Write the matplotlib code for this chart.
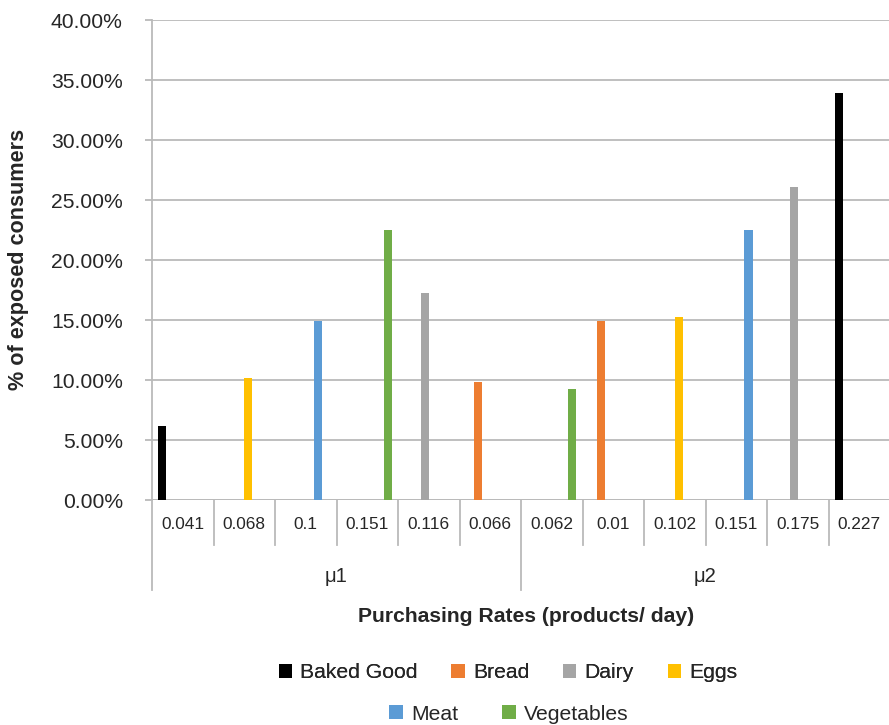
import numpy as np
import matplotlib
matplotlib.use("Agg")
import matplotlib.pyplot as plt
from matplotlib.ticker import PercentFormatter, MultipleLocator
import matplotlib.transforms as mtransforms

plt.rcParams["font.family"] = ["Liberation Sans", "DejaVu Sans"]

# ---- data -------------------------------------------------------------
rate_labels = ["0.041", "0.068", "0.1", "0.151", "0.116", "0.066",
               "0.062", "0.01", "0.102", "0.151", "0.175", "0.227"]
group_labels = ["\u03bc1", "\u03bc2"]
group_size = 6

series_names = ["Baked Good", "Bread", "Dairy", "Eggs", "Meat", "Vegetables"]
series_colors = ["#000000", "#ED7D31", "#A5A5A5", "#FFC000", "#5B9BD5", "#70AD47"]

# product category shown at each purchasing rate, and % of exposed consumers
rate_product = ["Baked Good", "Eggs", "Meat", "Vegetables", "Dairy", "Bread",
                "Vegetables", "Bread", "Eggs", "Meat", "Dairy", "Baked Good"]
pct_exposed = [6.17, 10.14, 14.9, 22.5, 17.28, 9.83,
               9.22, 14.92, 15.22, 22.5, 26.1, 33.9]

# ---- figure -----------------------------------------------------------
W, H = 889, 725
fig = plt.figure(figsize=(W / 100, H / 100), dpi=100)
ax = fig.add_axes([152 / W, 225 / H, 738 / W, 480 / H])

text_color = "#262626"
grid_color = "#BABABA"

n_cat = len(rate_labels)
n_ser = len(series_names)
bar_w = 1.0 / (n_ser + 1.5)          # clustered bars, 150% gap width
x = np.arange(n_cat)

for s, (name, color) in enumerate(zip(series_names, series_colors)):
    vals = np.array([v if p == name else np.nan
                     for p, v in zip(rate_product, pct_exposed)])
    ax.bar(x + (s - (n_ser - 1) / 2) * bar_w, vals, width=bar_w,
           color=color, linewidth=0, zorder=3, label=name)

ax.set_xlim(-0.5, n_cat - 0.5)
ax.set_ylim(0, 40)
ax.yaxis.set_major_locator(MultipleLocator(5))
ax.yaxis.set_major_formatter(PercentFormatter(xmax=100, decimals=2))
ax.yaxis.grid(True, color=grid_color, linewidth=1.3, zorder=0)
ax.set_axisbelow(True)

for side in ("top", "right", "bottom"):
    ax.spines[side].set_visible(False)
ax.spines["left"].set_color(grid_color)
ax.spines["left"].set_linewidth(1.3)
ax.axhline(0, color=grid_color, linewidth=1.3, zorder=2)

ax.tick_params(axis="y", length=5, width=1.3, color=grid_color,
               pad=16, labelsize=15.2, labelcolor=text_color)
ax.set_xticks(x, rate_labels)
ax.tick_params(axis="x", length=0, pad=12, labelsize=12.4, labelcolor=text_color)

# multi-level category axis: dividers and group labels
trans = mtransforms.blended_transform_factory(ax.transData, ax.transAxes)
inner_depth = -45 / 480
outer_depth = -90 / 480
for b in np.arange(-0.5, n_cat, 1.0):
    is_outer = (round(b + 0.5) % group_size) == 0
    depth = outer_depth if is_outer else inner_depth
    ax.plot([b, b], [0, depth], color=grid_color, linewidth=1.3,
            transform=trans, clip_on=False)
for g, label in enumerate(group_labels):
    center = g * group_size + (group_size - 1) / 2
    ax.text(center, -76 / 480, label, transform=trans, ha="center",
            va="center", fontsize=14.6, color=text_color)

fig.text(526 / W, 1 - 617 / H, "Purchasing Rates (products/ day)",
         ha="center", va="center", fontsize=15.2, fontweight="bold",
         color=text_color)
fig.text(18.6 / W, 1 - 259 / H, "% of exposed consumers", rotation=90,
         ha="center", va="center", fontsize=15.6, fontweight="bold",
         color=text_color)

# legend in two centred rows
handles, labels = ax.get_legend_handles_labels()
leg_kw = dict(frameon=False, fontsize=15.2, handlelength=0.62,
              handleheight=0.62, handletextpad=0.4, labelcolor=text_color,
              borderaxespad=0, borderpad=0)
leg1 = fig.legend(handles[:4], labels[:4], ncol=4, loc="center",
                  bbox_to_anchor=(508 / W, 1 - 673 / H), columnspacing=1.6,
                  **leg_kw)
fig.add_artist(leg1)
fig.legend(handles[4:], labels[4:], ncol=2, loc="center",
           bbox_to_anchor=(509 / W, 1 - 714 / H), columnspacing=2.1, **leg_kw)

fig.savefig("out.png", dpi=100)
